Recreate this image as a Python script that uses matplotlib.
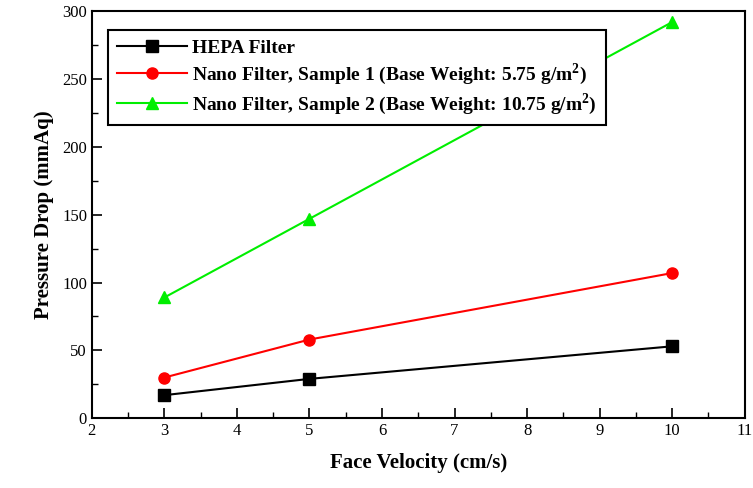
import matplotlib
matplotlib.use("Agg")
import matplotlib.pyplot as plt
from matplotlib.ticker import MultipleLocator

plt.rcParams['font.family'] = ['Liberation Serif', 'DejaVu Serif']

velocity = [3, 5, 10]
hepa = [17, 29, 53]
nano1 = [30, 58, 107]
nano2 = [89, 147, 292]

labels = ["HEPA Filter",
          "Nano Filter, Sample 1 (Base Weight: 5.75 g/m$^{\\mathregular{2}}$)",
          "Nano Filter, Sample 2 (Base Weight: 10.75 g/m$^{\\mathregular{2}}$)"]

fig = plt.figure(figsize=(7.53, 4.88), dpi=100)
ax = fig.add_axes([0.122, 0.143, 0.867, 0.834])

ax.plot(velocity, hepa, color='black', marker='s', markersize=8, lw=1.5, label=labels[0])
ax.plot(velocity, nano1, color='#ff0000', marker='o', markersize=8, lw=1.5, label=labels[1])
ax.plot(velocity, nano2, color='#00ee00', marker='^', markersize=8, lw=1.5, label=labels[2])

ax.set_xlim(2, 11)
ax.set_ylim(0, 300)
ax.xaxis.set_major_locator(MultipleLocator(1))
ax.xaxis.set_minor_locator(MultipleLocator(0.5))
ax.yaxis.set_major_locator(MultipleLocator(50))
ax.yaxis.set_minor_locator(MultipleLocator(25))
ax.tick_params(which='both', direction='in', top=False, right=False, labelsize=12)
ax.tick_params(which='major', length=7, width=1.2)
ax.tick_params(which='minor', length=4, width=1.0)
for s in ax.spines.values():
    s.set_linewidth(1.5)

ax.set_xlabel("Face Velocity (cm/s)", fontsize=15, fontweight='bold', labelpad=10)
ax.set_ylabel("Pressure Drop (mmAq)", fontsize=15, fontweight='bold', labelpad=6)

leg = ax.legend(loc='upper left', bbox_to_anchor=(0.0245, 0.953), fancybox=False,
                edgecolor='black', prop={'weight': 'bold', 'size': 14},
                borderpad=0.45, labelspacing=0.22, handlelength=3.6,
                handletextpad=0.3, borderaxespad=0, framealpha=1)
leg.get_frame().set_linewidth(1.5)

fig.savefig("out.png", dpi=100)
